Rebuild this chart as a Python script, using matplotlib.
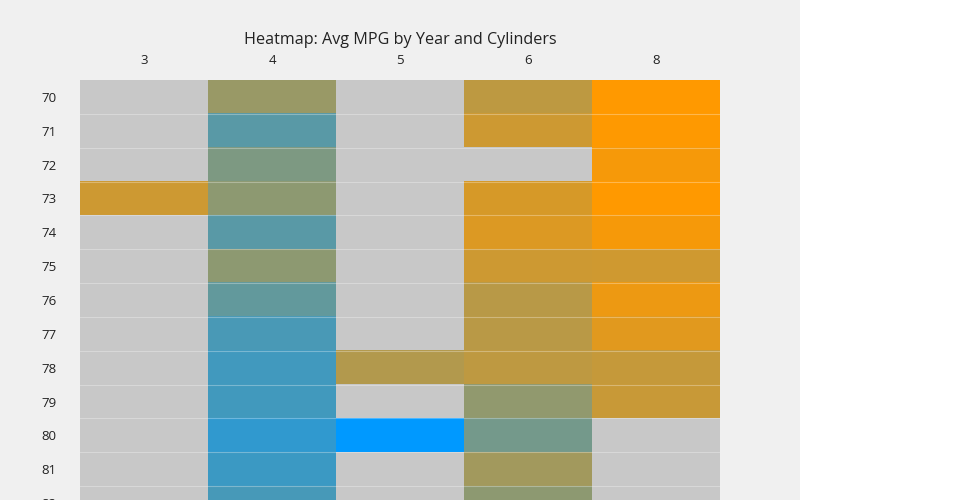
import numpy as np
import matplotlib
matplotlib.use("Agg")
import matplotlib.pyplot as plt
from matplotlib.colors import LinearSegmentedColormap
from matplotlib.patches import Rectangle

plt.rcParams["font.family"] = ["Open Sans", "DejaVu Sans"]

# data: average mpg per model year (rows) and cylinder count (columns)
years = [70, 71, 72, 73, 74, 75, 76, 77, 78, 79, 80, 81, 82]
cylinders = ["3", "4", "5", "6", "8"]
nan = np.nan
mpg_3 = [nan, nan, nan, 17.8, nan, nan, nan, nan, nan, nan, nan, nan, nan]
mpg_4 = [22.5, 28.3, 25.0, 23.6, 28.3, 23.6, 27.4, 29.7, 30.5, 30.4, 32.0, 31.0, 29.9]
mpg_5 = [nan, nan, nan, nan, nan, nan, nan, nan, 20.2, nan, 36.4, nan, nan]
mpg_6 = [19.2, 17.8, nan, 17.0, 16.4, 17.8, 19.7, 19.6, 19.1, 23.2, 25.8, 21.7, 23.6]
mpg_8 = [13.2, 13.3, 14.1, 13.2, 14.1, 17.6, 14.9, 16.0, 18.5, 18.2, nan, nan, nan]

grid = np.column_stack([mpg_3, mpg_4, mpg_5, mpg_6, mpg_8])
grid = np.ma.masked_invalid(grid)

cmap = LinearSegmentedColormap.from_list("orange_blue", ["#ff9900", "#0099ff"])
cmap.set_bad("#c8c8c8")

fig = plt.figure(figsize=(9.6, 5), dpi=100)
fig.patch.set_facecolor("white")
# grey paper behind the plot area (left 800 px)
fig.patches.append(Rectangle((0, 0), 800 / 960, 1, transform=fig.transFigure,
                             facecolor="#f0f0f0", edgecolor="none", zorder=-10))

# plot area: x 80..720 px, rows start at y=80 px, 13 rows of ~33.85 px (runs past the bottom)
row_h = 33.85
top = 80
bottom = top + row_h * len(years)
ax = fig.add_axes([80 / 960, 1 - bottom / 500, 640 / 960, (bottom - top) / 500])
ax.set_facecolor("#f0f0f0")

ax.imshow(grid, cmap=cmap, vmin=13.2, vmax=36.4, aspect="auto",
          interpolation="nearest")

# faint separators between rows
for i in range(len(years) - 1):
    ax.axhline(i + 0.5, color="white", alpha=0.3, lw=0.8)

ax.set_xticks(range(len(cylinders)))
ax.set_xticklabels(cylinders)
ax.set_yticks(range(len(years)))
ax.set_yticklabels([str(y) for y in years])
ax.xaxis.tick_top()
ax.tick_params(axis="x", length=0, pad=9, labelsize=9.5, colors="#222222")
ax.tick_params(axis="y", length=0, pad=17, labelsize=9.5, colors="#222222")
for s in ax.spines.values():
    s.set_visible(False)

fig.text(400 / 960, 1 - 40 / 500, "Heatmap: Avg MPG by Year and Cylinders",
         ha="center", va="center", fontsize=11.6, color="#222222")

fig.savefig("out.png", dpi=100)
